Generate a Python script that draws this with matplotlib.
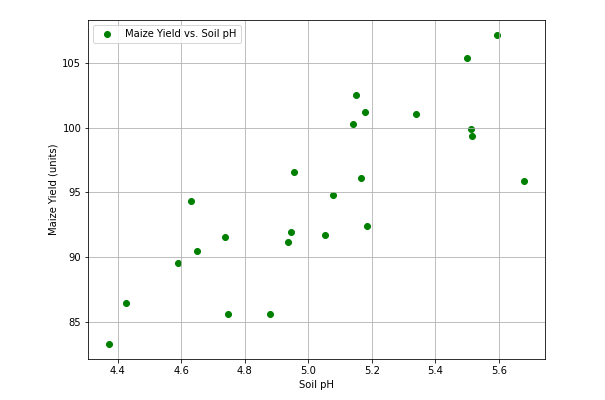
"""Scatter plot of maize yield against soil pH."""

import matplotlib
import matplotlib.pyplot as plt

matplotlib.use("Agg")

soil_ph = [4.373, 4.425, 4.588, 4.629, 4.650, 4.739, 4.748, 4.880, 4.935,
           4.946, 4.954, 5.053, 5.078, 5.141, 5.150, 5.166, 5.180, 5.185,
           5.338, 5.500, 5.514, 5.516, 5.596, 5.680]
maize_yield = [83.32, 86.44, 89.56, 94.32, 90.46, 91.59, 85.59, 85.64, 91.20,
               91.95, 96.56, 91.72, 94.78, 100.29, 102.55, 96.10, 101.19, 92.44,
               101.08, 105.39, 99.90, 99.39, 107.17, 95.89]


def main(output_path: str = "out.png") -> None:
    fig, ax = plt.subplots(figsize=(605 / 72, 400 / 72), dpi=72)
    ax.scatter(soil_ph, maize_yield, color="green", label="Maize Yield vs. Soil pH")
    ax.set_xlabel("Soil pH")
    ax.set_ylabel("Maize Yield (units)")
    ax.set_xlim(4.307, 5.746)
    ax.set_ylim(82.14, 108.32)
    ax.grid(True)
    ax.legend(loc="upper left")

    fig.subplots_adjust(left=0.146, right=0.901, bottom=0.1025, top=0.95)
    fig.savefig(output_path, dpi=72)
    plt.close(fig)


if __name__ == "__main__":
    main()
